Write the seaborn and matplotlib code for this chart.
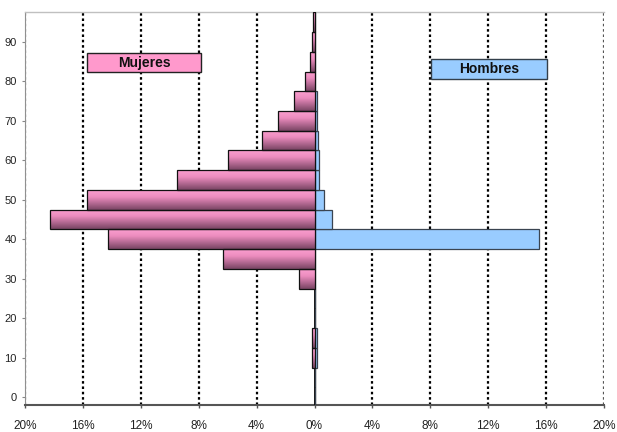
import numpy as np
import pandas as pd
import matplotlib
matplotlib.use("Agg")
import matplotlib.pyplot as plt
from matplotlib.patches import Rectangle
from matplotlib.colors import to_rgb
import seaborn as sns

# Age groups (lower bound of each 5-year band) and share of population (%)
edades = [0, 5, 10, 15, 20, 25, 30, 35, 40, 45, 50, 55, 60, 65, 70, 75, 80, 85, 90, 95]
mujeres = [0.0, 0.0, 0.2, 0.2, 0.0, 0.0, 1.1, 6.3, 14.3, 18.3, 15.7, 9.5, 6.0, 3.6, 2.5, 1.45, 0.65, 0.3, 0.2, 0.1]
hombres = [0.0, 0.0, 0.15, 0.15, 0.0, 0.0, 0.0, 0.0, 15.5, 1.24, 0.66, 0.32, 0.28, 0.25, 0.2, 0.18, 0.0, 0.0, 0.0, 0.0]

x_ticks = [-20, -16, -12, -8, -4, 0, 4, 8, 12, 16, 20]
y_ticks = [0, 10, 20, 30, 40, 50, 60, 70, 80, 90]

sns.set_theme(style="white")
plt.rcParams["font.family"] = ["Liberation Sans", "DejaVu Sans"]

df_m = pd.DataFrame({"edad": edades, "pct": [-v for v in mujeres]})
df_h = pd.DataFrame({"edad": edades, "pct": hombres})

fig = plt.figure(figsize=(6.17, 4.32), dpi=100)
ax = fig.add_axes([25 / 617, 27 / 432, 579 / 617, 393 / 432])

sns.barplot(data=df_m, x="pct", y="edad", orient="h", native_scale=True,
            width=1.0, color="#F49AC8", saturation=1, errorbar=None,
            edgecolor="#111111", linewidth=0.9, ax=ax, zorder=3)
n_m = len(ax.patches)
sns.barplot(data=df_h, x="pct", y="edad", orient="h", native_scale=True,
            width=1.0, color="#99CCFF", saturation=1, errorbar=None,
            edgecolor="#3A4450", linewidth=0.9, ax=ax, zorder=3)

# vertical pink-to-mauve shading inside each women's bar
stops = [(0.0, "#FA9FD0"), (0.35, "#EC8CBE"), (1.0, "#784463")]
t = np.linspace(0, 1, 64)
grad = np.zeros((64, 1, 3))
for c in range(3):
    grad[:, 0, c] = np.interp(t, [s[0] for s in stops], [to_rgb(s[1])[c] for s in stops])
for p in ax.patches[:n_m]:
    x0, y0 = p.get_x(), p.get_y()
    w, h = p.get_width(), p.get_height()
    if abs(w) < 1e-9:
        continue
    im = ax.imshow(grad, extent=(x0, x0 + w, y0, y0 + h), origin="upper",
                   aspect="auto", interpolation="bilinear", zorder=3)
    im.set_clip_path(p)
    p.set_facecolor("none")
    p.set_zorder(3.5)

ax.set_xlim(-20, 20)
ax.set_ylim(-2.0, 97.6)
ax.set_xlabel("")
ax.set_ylabel("")
ax.set_xticks(x_ticks)
ax.set_xticklabels([f"{abs(v)}%" for v in x_ticks])
ax.set_yticks(y_ticks)
ax.set_yticklabels([str(v) for v in y_ticks])

ax.tick_params(axis="x", direction="out", length=2.2, width=1, color="#555555",
               pad=8.5, labelsize=8.5, labelcolor="#222222", bottom=True)
ax.tick_params(axis="y", direction="out", length=2, width=0.8, color="#888888",
               pad=4, labelsize=8, labelcolor="#222222", left=True)

# dotted vertical gridlines
ax.xaxis.grid(True, color="black", linewidth=1.6, linestyle=(0, (1.15, 1.25)), zorder=1)
ax.yaxis.grid(False)
gl = ax.get_xgridlines()
gl[0].set_color("#555555")
gl[-1].set_color("#555555")
gl[x_ticks.index(0)].set_visible(False)
ax.set_axisbelow(True)
ax.axvline(0, color="black", linewidth=1.3, zorder=2.8)

for side, col, lw in [("top", "#C0C0C0", 1.0), ("bottom", "#555555", 1.5),
                      ("left", "#909090", 0.8)]:
    ax.spines[side].set_visible(True)
    ax.spines[side].set_color(col)
    ax.spines[side].set_linewidth(lw)
ax.spines["right"].set_visible(False)

# series label boxes
for (bx0, bx1, by0, by1, fc, ec, txt) in [
        (0.107, 0.304, 0.847, 0.896, "#FF99CC", "#222222", "Mujeres"),
        (0.702, 0.901, 0.829, 0.880, "#99CCFF", "#333F4A", "Hombres")]:
    ax.add_patch(Rectangle((bx0, by0), bx1 - bx0, by1 - by0, transform=ax.transAxes,
                           facecolor=fc, edgecolor=ec, linewidth=1.0, zorder=5))
    ax.text((bx0 + bx1) / 2, (by0 + by1) / 2, txt, transform=ax.transAxes,
            ha="center", va="center", fontsize=10, fontweight="bold",
            color="#111111", zorder=6)

fig.savefig("out.png", dpi=100)
